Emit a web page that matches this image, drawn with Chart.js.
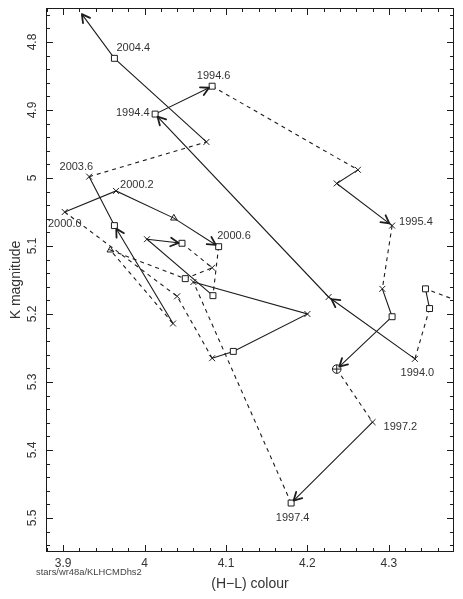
<!DOCTYPE html>
<html>
<head>
<meta charset="utf-8">
<script src="https://cdn.jsdelivr.net/npm/chart.js@4.4.1/dist/chart.umd.min.js"></script>
<style>
html, body { margin: 0; padding: 0; background: #fff; }
#wrap { position: relative; width: 463px; height: 599px; }
</style>
</head>
<body>
<div id="wrap"><canvas id="cmd" width="463" height="599"></canvas></div>
<script>
// ============================================
// Data (time order)
// ============================================
const epochLabels = ['', '', '', '1994.0', '', '1994.4', '1994.6', '', '', '1995.4',
    '', '', '', '1997.2', '1997.4', '', '', '', '', '',
    '2000.0', '2000.2', '', '2000.6', '', '', '', '', '', '',
    '', '', '2003.6', '', '2004.4', ''];

const hlColour = [4.412, 4.345, 4.350, 4.332, 4.226, 4.013, 4.083, 4.262, 4.236, 4.304,
    4.292, 4.304, 4.236, 4.280, 4.180, 4.060, 4.200, 4.109, 4.083, 4.040,
    3.902, 3.965, 4.036, 4.091, 4.084, 4.003, 4.046, 4.083, 4.050, 3.958,
    4.035, 3.963, 3.932, 4.076, 3.963, 3.923];

const kMag = [5.193, 5.163, 5.192, 5.266, 5.175, 4.906, 4.865, 4.988, 5.008, 5.070,
    5.163, 5.204, 5.281, 5.359, 5.478, 5.153, 5.200, 5.255, 5.265, 5.174,
    5.050, 5.019, 5.059, 5.101, 5.173, 5.090, 5.096, 5.132, 5.148, 5.106,
    5.214, 5.070, 4.998, 4.947, 4.824, 4.759];

// x = cross, sq = square, tri = triangle, oplus = circled plus
const markers = ['none', 'sq', 'sq', 'x', 'x', 'sq', 'sq', 'x', 'x', 'x',
    'x', 'sq', 'oplus', 'x', 'sq', 'x', 'x', 'sq', 'x', 'x',
    'x', 'x', 'tri', 'sq', 'sq', 'x', 'sq', 'x', 'sq', 'tri',
    'x', 'sq', 'x', 'x', 'sq', 'none'];

// segment leading into this point is dashed (gap between seasons)
const dashedIn = [false, true, false, true, false, false, false, true, false, false,
    true, false, false, true, false, true, false, false, false, true,
    true, false, false, false, true, false, false, true, true, true,
    true, false, false, true, false, false];

// arrowhead drawn at this point
const arrowIn = [4, 5, 6, 9, 12, 14, 23, 26, 31, 35];

const xTicks = [3.9, 4, 4.1, 4.2, 4.3];
const yTicks = [4.8, 4.9, 5, 5.1, 5.2, 5.3, 5.4, 5.5];

// ============================================
// Styling
// ============================================
const INK = '#1c1c1c';
const TEXT = '#333';
const FONT = '"Liberation Sans", Arial, Helvetica, sans-serif';

const labelPlacement = {
    '1994.0': [2.5, 14.5, 'center'],
    '1994.4': [-5.5, -1.5, 'right'],
    '1994.6': [1.5, -10, 'center'],
    '1995.4': [7, -4, 'left'],
    '1997.2': [11, 5, 'left'],
    '1997.4': [1.5, 15, 'center'],
    '2000.0': [0, 11.5, 'center'],
    '2000.2': [4, -5.5, 'left'],
    '2000.6': [-1.5, -10.5, 'left'],
    '2003.6': [4, -10, 'right'],
    '2004.4': [2, -10, 'left']
};

const styleOf = { x: 'crossRot', sq: 'rect', tri: 'triangle', oplus: 'circle', none: 'circle' };
const radiusOf = { x: 4.2, sq: 4.2, tri: 3.8, oplus: 0, none: 0 };

// ============================================
// Frame, inward ticks, labels, arrows
// ============================================
const decorPlugin = {
    id: 'decor',
    afterDatasetsDraw(chart) {
        const { ctx, chartArea: a, scales } = chart;
        const xs = scales.x, ys = scales.y;
        const meta = chart.getDatasetMeta(0);
        ctx.save();

        // frame
        ctx.strokeStyle = INK;
        ctx.lineWidth = 1;
        ctx.strokeRect(a.left + 0.5, a.top + 0.5, a.right - a.left - 1, a.bottom - a.top - 1);

        // ticks (major 0.1, minor 0.02), pointing inward on all sides
        ctx.beginPath();
        for (let k = 194; k <= 219; k++) {
            const px = Math.round(xs.getPixelForValue(k / 50)) + 0.5;
            if (px < a.left || px > a.right) continue;
            const len = k % 5 === 0 ? 7 : 4;
            ctx.moveTo(px, a.bottom); ctx.lineTo(px, a.bottom - len);
            ctx.moveTo(px, a.top); ctx.lineTo(px, a.top + len);
        }
        for (let k = 238; k <= 277; k++) {
            const py = Math.round(ys.getPixelForValue(k / 50)) + 0.5;
            if (py < a.top || py > a.bottom) continue;
            const len = k % 5 === 0 ? 7 : 4;
            ctx.moveTo(a.left, py); ctx.lineTo(a.left + len, py);
            ctx.moveTo(a.right, py); ctx.lineTo(a.right - len, py);
        }
        ctx.stroke();

        // circled-plus markers
        markers.forEach((m, i) => {
            if (m !== 'oplus') return;
            const p = meta.data[i];
            ctx.beginPath();
            ctx.arc(p.x, p.y, 4.3, 0, Math.PI * 2);
            ctx.fillStyle = '#fff';
            ctx.fill();
            ctx.moveTo(p.x - 4.3, p.y); ctx.lineTo(p.x + 4.3, p.y);
            ctx.moveTo(p.x, p.y - 4.3); ctx.lineTo(p.x, p.y + 4.3);
            ctx.lineWidth = 1;
            ctx.stroke();
        });

        // y tick labels, rotated
        ctx.fillStyle = TEXT;
        ctx.font = '12px ' + FONT;
        ctx.textAlign = 'center';
        ctx.textBaseline = 'middle';
        yTicks.forEach(v => {
            const py = ys.getPixelForValue(v);
            ctx.save();
            ctx.translate(33, py);
            ctx.rotate(-Math.PI / 2);
            ctx.fillText(String(v), 0, 0);
            ctx.restore();
        });

        // arrowheads
        ctx.lineWidth = 1.8;
        ctx.lineCap = 'round';
        arrowIn.forEach(i => {
            const p0 = meta.data[i - 1], p1 = meta.data[i];
            const ang = Math.atan2(p1.y - p0.y, p1.x - p0.x);
            const back = markers[i] === 'none' ? 0 : 3.5;
            const tx = p1.x - back * Math.cos(ang), ty = p1.y - back * Math.sin(ang);
            ctx.beginPath();
            [0.5, -0.5].forEach(d => {
                ctx.moveTo(tx, ty);
                ctx.lineTo(tx - 9 * Math.cos(ang + d), ty - 9 * Math.sin(ang + d));
            });
            ctx.stroke();
        });

        // epoch labels
        ctx.font = '11px ' + FONT;
        ctx.textBaseline = 'middle';
        epochLabels.forEach((lab, i) => {
            if (!lab) return;
            const pl = labelPlacement[lab] || [4, -8, 'left'];
            const p = meta.data[i];
            ctx.textAlign = pl[2];
            ctx.fillText(lab, p.x + pl[0], p.y + pl[1]);
        });

        // file tag
        ctx.font = '9.4px ' + FONT;
        ctx.textAlign = 'left';
        ctx.fillStyle = '#444';
        ctx.fillText('stars/wr48a/KLHCMDhs2', 36, 572);
        ctx.restore();
    }
};

// ============================================
// Chart
// ============================================
new Chart(document.getElementById('cmd'), {
    type: 'scatter',
    data: {
        datasets: [{
            data: hlColour.map((x, i) => ({ x: x, y: kMag[i] })),
            showLine: true,
            tension: 0,
            borderColor: INK,
            borderWidth: 1.1,
            segment: {
                borderDash: c => dashedIn[c.p1DataIndex] ? [4, 4] : undefined
            },
            pointStyle: markers.map(m => styleOf[m]),
            pointRadius: markers.map(m => radiusOf[m]),
            pointHoverRadius: markers.map(m => radiusOf[m]),
            pointBorderColor: INK,
            pointBorderWidth: 1,
            pointBackgroundColor: markers.map(m => m === 'sq' ? '#fff' : 'rgba(0,0,0,0)')
        }]
    },
    options: {
        responsive: false,
        devicePixelRatio: 1,
        animation: false,
        layout: { padding: { top: 8, right: 9, left: 0, bottom: 0 } },
        plugins: { legend: { display: false }, tooltip: { enabled: false } },
        scales: {
            x: {
                type: 'linear',
                min: 3.879,
                max: 4.38,
                grid: { display: false, drawTicks: false },
                border: { display: false },
                afterBuildTicks: s => { s.ticks = xTicks.map(v => ({ value: v })); },
                afterFit: s => { s.height = 47; },
                ticks: {
                    color: TEXT,
                    padding: 4,
                    maxRotation: 0,
                    font: { family: FONT, size: 12 },
                    callback: v => String(v)
                },
                title: {
                    display: true,
                    text: '(H\u2212L) colour',
                    color: TEXT,
                    font: { family: FONT, size: 14 },
                    padding: { top: 0, bottom: 6 }
                }
            },
            y: {
                type: 'linear',
                reverse: true,
                min: 4.75,
                max: 5.55,
                grid: { display: false, drawTicks: false },
                border: { display: false },
                afterBuildTicks: s => { s.ticks = yTicks.map(v => ({ value: v })); },
                afterFit: s => { s.width = 46; },
                ticks: { display: false },
                title: {
                    display: true,
                    text: 'K magnitude',
                    color: TEXT,
                    font: { family: FONT, size: 14 },
                    padding: { top: 8, bottom: 0 }
                }
            }
        }
    },
    plugins: [decorPlugin]
});
</script>
</body>
</html>
